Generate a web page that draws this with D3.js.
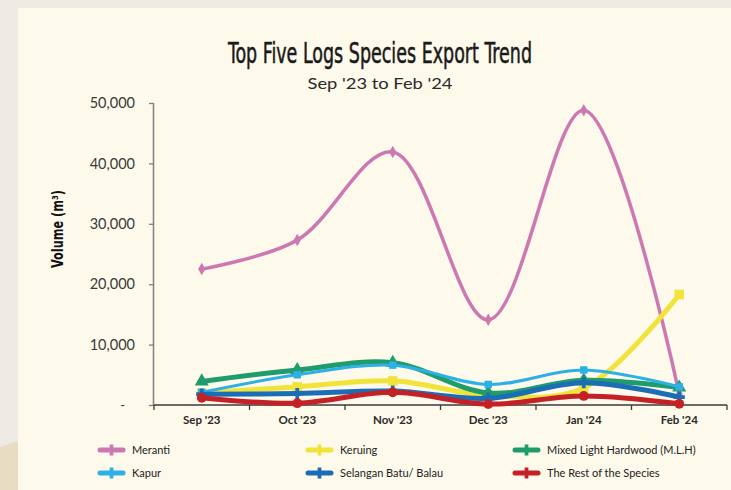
<!DOCTYPE html>
<html><head><meta charset="utf-8">
<script src="https://cdn.jsdelivr.net/npm/d3@7"></script>
<style>
html,body{margin:0;padding:0;background:#eeebe5;}
svg{display:block;}
</style></head>
<body>
<svg id="c" width="731" height="490"></svg>
<script>
const categories = ["Sep '23","Oct '23","Nov '23","Dec '23","Jan '24","Feb '24"];
const seriesNames = ["Meranti","Keruing","Mixed Light Hardwood (M.L.H)","Kapur","Selangan Batu/ Balau","The Rest of the Species"];
const meranti   = [22500, 27300, 41900, 14100, 48800, 1800];
const keruing   = [2000, 3000, 4000, 1600, 2800, 18300];
const mlh       = [3900, 5800, 7000, 2000, 4100, 2900];
const kapur     = [2100, 5000, 6600, 3400, 5800, 3000];
const selangan  = [1800, 1900, 2300, 1100, 3700, 1300];
const rest      = [1200, 300, 2100, 150, 1500, 200];
const yTicks    = [0, 10000, 20000, 30000, 40000, 50000];

const colors  = ["#cc78b3","#f0e43a","#1e9c6c","#2cb0e6","#1b6db5","#c42127"];
const widths  = [3.5, 5, 5, 3, 5, 5];
const symbols = [d3.symbolDiamond, d3.symbolSquare, d3.symbolTriangle, d3.symbolSquare, d3.symbolCross, d3.symbolCircle];
const symSize = [45, 90, 85, 55, 70, 75];
const data = [meranti, keruing, mlh, kapur, selangan, rest];

const svg = d3.select("#c");
// backgrounds
svg.append("rect").attr("width",731).attr("height",490).attr("fill","#eeebe4");
svg.append("path").attr("d","M0,447 L18,441 L18,490 L0,490 Z").attr("fill","#e8dcc2");
svg.append("rect").attr("x",18).attr("y",8).attr("width",713).attr("height",482).attr("fill","#fdf9eb");

const x = d3.scaleBand().domain(categories).range([154, 727]);
const y = d3.scaleLinear().domain([0, 50000]).range([405, 103]);

// titles
svg.append("text").attr("x",380).attr("y",63).attr("text-anchor","middle")
  .attr("font-family","'Liberation Sans Narrow','DejaVu Sans Condensed',sans-serif")
  .attr("font-size",28).attr("fill","#1a1a1a").attr("stroke","#1a1a1a").attr("stroke-width",0.5)
  .attr("textLength",304).attr("lengthAdjust","spacingAndGlyphs")
  .text("Top Five Logs Species Export Trend");
svg.append("text").attr("x",380).attr("y",88.5).attr("text-anchor","middle")
  .attr("font-family","Lato,sans-serif").attr("font-size",16).attr("fill","#2a2a2a")
  .attr("textLength",145).attr("lengthAdjust","spacingAndGlyphs")
  .text("Sep '23 to Feb '24");

// y axis
const yAxis = d3.axisLeft(y).tickValues(yTicks).tickSize(5).tickPadding(14)
  .tickFormat(d => d === 0 ? "-" : d3.format(",")(d));
const gy = svg.append("g").attr("transform","translate(154,0)").call(yAxis);
gy.select(".domain").attr("stroke","#808080").attr("stroke-width",1.5).attr("d","M-0.5,103V405");
gy.selectAll(".tick line").attr("stroke","#808080").attr("stroke-width",1.3);
gy.selectAll(".tick text").attr("font-family","Lato,sans-serif").attr("font-size",14.5).attr("fill","#3a3a3a");
gy.selectAll(".tick").filter(d => d === 0).select("text").attr("dx",-10).attr("font-size",13);

svg.append("text").attr("transform","translate(63,229) rotate(-90)").attr("text-anchor","middle")
  .attr("font-family","'Liberation Sans Narrow','DejaVu Sans Condensed',sans-serif")
  .attr("font-weight","bold").attr("font-size",15).attr("fill","#111")
  .attr("textLength",78).attr("lengthAdjust","spacingAndGlyphs")
  .text("Volume (m³)");

// x axis
const xAxis = d3.axisBottom(x).tickSize(0).tickPadding(11);
const gx = svg.append("g").attr("transform","translate(0,405)").call(xAxis);
gx.select(".domain").attr("stroke","#3a3a3a").attr("stroke-width",1.5).attr("d","M154,0H727");
gx.selectAll(".tick text").attr("font-family","Lato,sans-serif").attr("font-weight","bold")
  .attr("font-size",11.5).attr("fill","#2a2a2a");
const bounds = categories.map(c => x(c)).concat([x(categories[categories.length-1]) + x.bandwidth()]);
gx.selectAll("line.bt").data(bounds).join("line").attr("class","bt")
  .attr("x1",d=>d).attr("x2",d=>d).attr("y1",0).attr("y2",5)
  .attr("stroke","#3a3a3a").attr("stroke-width",1.3);

// lines
const cx = c => x(c) + x.bandwidth()/2;
const line = d3.line().x((d,i)=>cx(categories[i])).y(d=>y(d)).curve(d3.curveCatmullRom.alpha(0.5));
data.forEach((vals, s) => {
  const g = svg.append("g");
  g.append("path").attr("d", line(vals)).attr("fill","none")
    .attr("stroke", colors[s]).attr("stroke-width", widths[s]).attr("stroke-linejoin","round").attr("stroke-linecap","round");
  g.selectAll("path.m").data(vals).join("path").attr("class","m")
    .attr("transform",(d,i)=>`translate(${cx(categories[i])},${y(d)})`)
    .attr("d", d3.symbol().type(symbols[s]).size(symSize[s]))
    .attr("fill", colors[s]);
});

// legend
const legX = [100, 308, 515], legY = [450, 473];
seriesNames.forEach((name, i) => {
  const lx = legX[i % 3], ly = legY[Math.floor(i / 3)];
  const g = svg.append("g").attr("transform",`translate(${lx},${ly})`);
  g.append("line").attr("x1",0).attr("x2",23).attr("y1",0).attr("y2",0)
    .attr("stroke",colors[i]).attr("stroke-width",5).attr("stroke-linecap","round");
  g.append("path").attr("transform","translate(11.5,0)")
    .attr("d", d3.symbol().type(d3.symbolCross).size(70)).attr("fill",colors[i]);
  g.append("text").attr("x",32).attr("y",4).attr("font-family","Lato,sans-serif")
    .attr("font-size",11).attr("fill","#222").text(name);
});
</script>
</body></html>
